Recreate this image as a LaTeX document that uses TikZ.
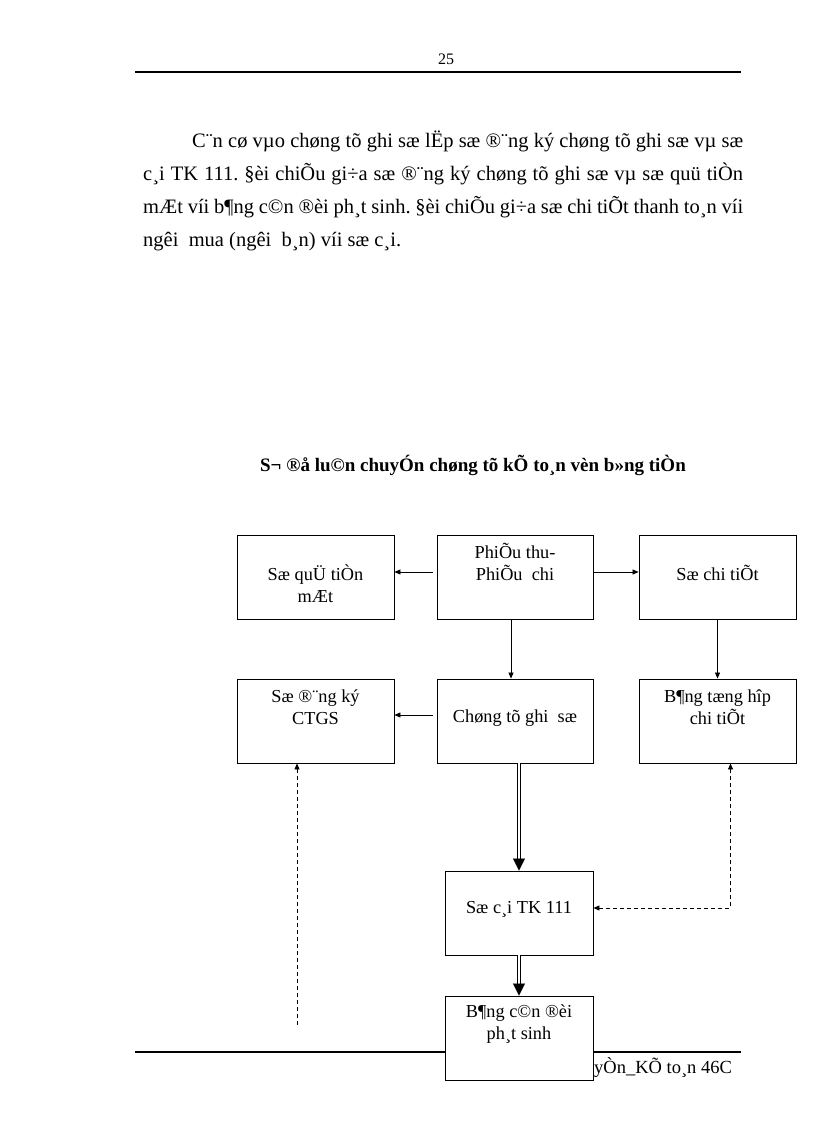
\documentclass[tikz,border=0pt]{standalone}
\usepackage{fontspec}
\setmainfont{Liberation Serif}
\usetikzlibrary{arrows.meta,calc}
\frenchspacing
\begin{document}
\begin{tikzpicture}[x=1pt,y=-1pt,
  box/.style={draw,fill=white,line width=0.9pt,inner sep=0pt,minimum height=84pt},
  lbl/.style={align=center,inner sep=0pt,font=\fontsize{18.3pt}{22pt}\selectfont},
  body/.style={anchor=base west,inner sep=0pt,font=\fontsize{20.5pt}{24pt}\selectfont},
  arr/.style={line width=0.7pt,-{Triangle[length=6pt,width=5pt]}},
  darr/.style={line width=0.8pt,dash pattern=on 4pt off 3pt,-{Triangle[length=6pt,width=5pt]}},
  dbl/.style={line width=1.2pt,double distance=1.4pt},
  bigtip/.style={line width=0.1pt,-{Triangle[length=12pt,width=12pt]}},
  rule/.style={line width=2.2pt}]
\useasboundingbox[fill=white] (0,0) rectangle (816,1123);

% header
\node[inner sep=0pt,font=\fontsize{16pt}{18pt}\selectfont] (pnum) at (446,59) {25};
\coordinate (hl) at (135,72);
\coordinate (hr) at (741,72);
\draw[rule] (hl) -- (hr);

% paragraph
\node[body] (p1) at (192,148) {\makebox[551pt][s]{C¨n cø vµo chøng tõ ghi sæ lËp sæ ®¨ng ký chøng tõ ghi sæ vµ sæ}};
\node[body] (p2) at (143,181) {\makebox[600pt][s]{c¸i TK 111. §èi chiÕu gi÷a sæ ®¨ng ký chøng tõ ghi sæ vµ sæ quü tiÒn}};
\node[body] (p3) at (143,214) {\makebox[600pt][s]{mÆt víi b¶ng c©n ®èi ph¸t sinh. §èi chiÕu gi÷a sæ chi tiÕt thanh to¸n víi}};
\node[body] (p4) at (143,247) {ngêi\ \ mua (ngêi\ \ b¸n) víi sæ c¸i.};

% title
\node[inner sep=0pt,font=\bfseries\fontsize{19pt}{22pt}\selectfont] (title) at (473,465) {S¬ ®å lu©n chuyÓn chøng tõ kÕ to¸n vèn b»ng tiÒn};

% footer rule (behind last box)
\coordinate (fl) at (135,1052);
\coordinate (fr) at (741,1052);
\draw[rule] (fl) -- (fr);
\node[anchor=west,inner sep=0pt,font=\fontsize{18.5pt}{20pt}\selectfont] (foot) at (594,1068) {yÒn\_KÕ to¸n 46C};

% boxes
\node[box,minimum width=157pt] (soquy) at (315.5,577) {};
\node[box,minimum width=156pt] (phieu) at (515,577) {};
\node[box,minimum width=157pt] (sochi) at (717.5,577) {};
\node[box,minimum width=157pt] (sodk) at (315.5,721) {};
\node[box,minimum width=156pt] (chung) at (515,721) {};
\node[box,minimum width=157pt] (bangth) at (717.5,721) {};
\node[box,minimum width=148pt] (socai) at (519,913) {};
\node[box,minimum width=148pt] (bangcan) at (519,1038) {};

% labels
\node[lbl] (tsoquy) at (315.5,584) {Sæ quÜ tiÒn\\mÆt};
\node[lbl] (tphieu) at (515,562) {PhiÕu thu-\\PhiÕu\ \ chi};
\node[lbl] (tsochi) at (717.5,573) {Sæ chi tiÕt};
\node[lbl] (tsodk) at (315.5,707) {Sæ ®¨ng ký\\CTGS};
\node[lbl] (tchung) at (515,718) {Chøng tõ ghi\ \ sæ};
\node[lbl] (tbangth) at (717.5,707) {B¶ng tæng hîp\\chi tiÕt};
\node[lbl] (tsocai) at (519,909) {Sæ c¸i TK 111};
\node[lbl] (tbangcan) at (519,1024) {B¶ng c©n ®èi\\ph¸t sinh};

% connectors
\draw[arr] ([xshift=-4pt,yshift=5pt]phieu.west) -- ([yshift=5pt]soquy.east);
\draw[arr] ([yshift=5pt]phieu.east) -- ([yshift=5pt]sochi.west);
\draw[arr] ([xshift=-4pt]phieu.south) -- ([xshift=-4pt]chung.north);
\draw[arr] (sochi.south) -- (bangth.north);
\draw[arr] ([xshift=-4pt,yshift=6pt]chung.west) -- ([yshift=6pt]sodk.east);

\draw[dbl] (socai.north |- chung.south) -- ([yshift=11pt]socai.north);
\draw[bigtip] ([yshift=12pt]socai.north) -- (socai.north);
\draw[dbl] (socai.south) -- ([yshift=11pt]bangcan.north);
\draw[bigtip] ([yshift=12pt]bangcan.north) -- (bangcan.north);

\draw[darr,{Triangle[length=6pt,width=5pt]}-{Triangle[length=6pt,width=5pt]}] ([yshift=5pt]socai.east) -| ([xshift=13pt]bangth.south);
\coordinate (lfree) at (297,1025);
\draw[darr] (lfree) -- (lfree |- sodk.south);
\end{tikzpicture}
\end{document}
